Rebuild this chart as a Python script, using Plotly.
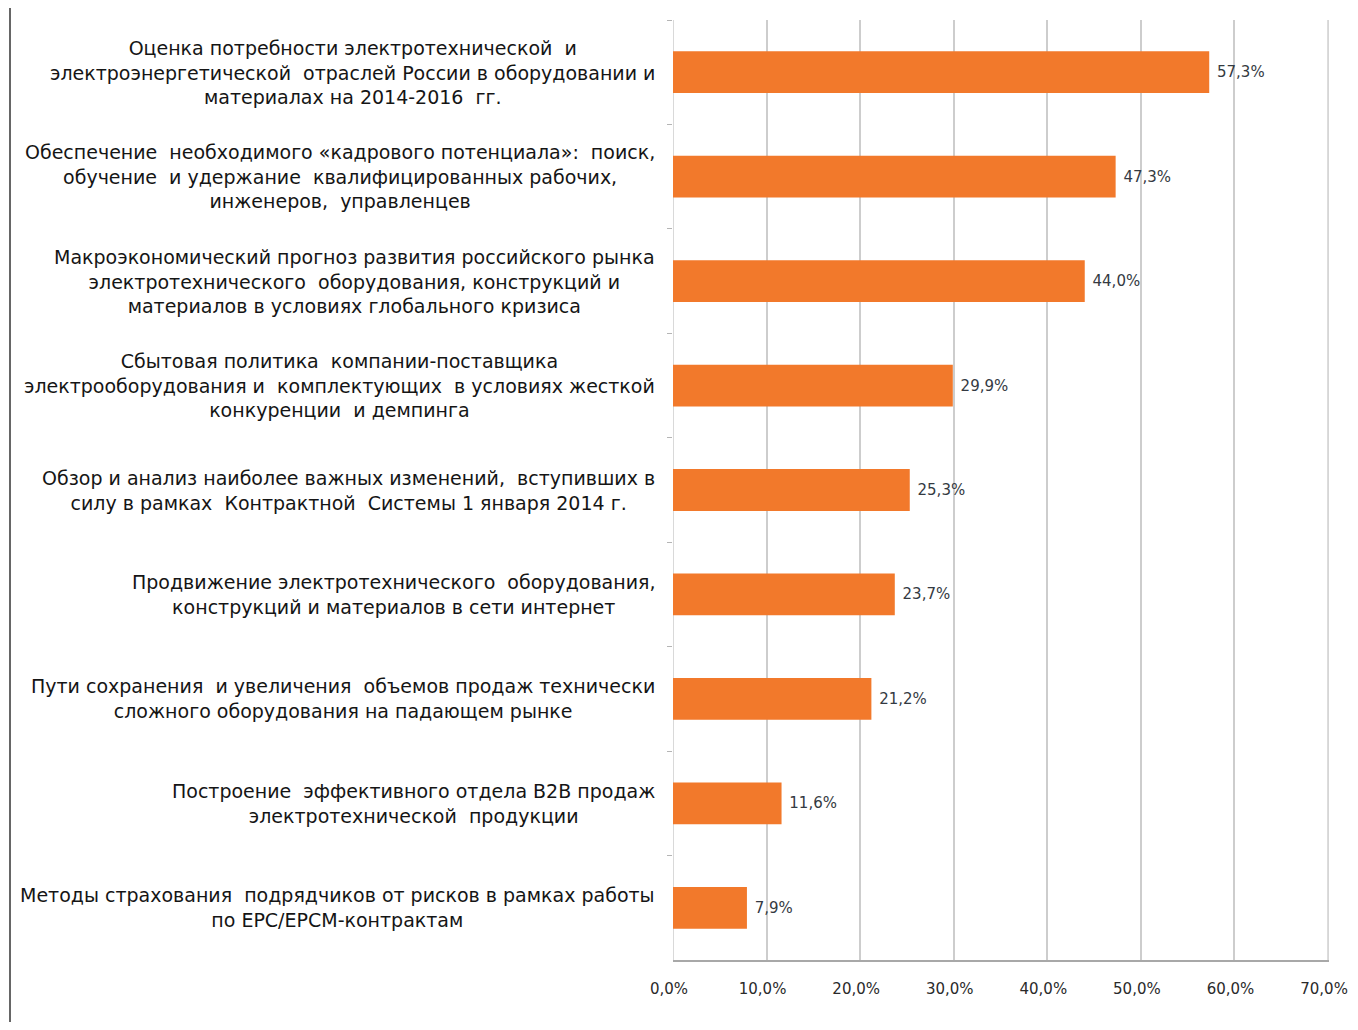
import plotly.graph_objects as go

categories = [
    "Оценка потребности электротехнической  и<br>электроэнергетической  отраслей России в оборудовании и<br>материалах на 2014-2016  гг.",
    "Обеспечение  необходимого «кадрового потенциала»:  поиск,<br>обучение  и удержание  квалифицированных рабочих,<br>инженеров,  управленцев",
    "Макроэкономический прогноз развития российского рынка<br>электротехнического  оборудования, конструкций и<br>материалов в условиях глобального кризиса",
    "Сбытовая политика  компании-поставщика<br>электрооборудования и  комплектующих  в условиях жесткой<br>конкуренции  и демпинга",
    "Обзор и анализ наиболее важных изменений,  вступивших в<br>силу в рамках  Контрактной  Системы 1 января 2014 г.",
    "Продвижение электротехнического  оборудования,<br>конструкций и материалов в сети интернет",
    "Пути сохранения  и увеличения  объемов продаж технически<br>сложного оборудования на падающем рынке",
    "Построение  эффективного отдела B2B продаж<br>электротехнической  продукции",
    "Методы страхования  подрядчиков от рисков в рамках работы<br>по EPC/EPCM-контрактам",
]
values = [57.3, 47.3, 44.0, 29.9, 25.3, 23.7, 21.2, 11.6, 7.9]
x_ticks = [0, 10, 20, 30, 40, 50, 60, 70]
x_tick_labels = ["0,0%", "10,0%", "20,0%", "30,0%", "40,0%", "50,0%", "60,0%", "70,0%"]

# page has an 8px body margin; figure sized so page fits the 1358x1030 window exactly
W, H = 1342, 1014
ML, MT = 665, 12
PW, PH = 656, 940
MR = W - ML - PW
MB = H - MT - PH

FONT = "DejaVu Sans, Verdana, sans-serif"
GRID = "#cdcdcd"

fig = go.Figure()
fig.add_trace(go.Bar(
    x=values, y=categories, orientation="h",
    marker=dict(color="#F2792B", line=dict(width=0)),
    width=0.4,
    text=values, texttemplate=" %{x:.1f}%", textposition="outside",
    textfont=dict(family=FONT, size=15, color="#343a42"),
    cliponaxis=False,
))

for cat in categories:
    fig.add_annotation(
        x=0, xref="paper", xanchor="right", xshift=-16,
        y=cat, yref="y", yanchor="middle",
        text=cat, showarrow=False, align="center",
        font=dict(family=FONT, size=19, color="#151515"),
    )

# edge gridlines (plotly drops gridlines that sit on the plot edges)
for xv in (x_ticks[0], x_ticks[-1]):
    fig.add_shape(type="line", xref="x", yref="paper", x0=xv, x1=xv, y0=0, y1=1,
                  line=dict(color=GRID, width=1.5), layer="below")

fig.add_shape(type="line", xref="paper", yref="paper",
              x0=(2 - ML) / PW, x1=(2 - ML) / PW,
              y0=-(MB + 10) / PH, y1=1 + (MT + 10) / PH,
              line=dict(color="#333333", width=1.5))

fig.update_layout(
    width=W, height=H,
    margin=dict(l=ML, r=MR, t=MT, b=MB),
    paper_bgcolor="white", plot_bgcolor="white",
    separators=", ",
    showlegend=False,
    xaxis=dict(
        range=[0, x_ticks[-1] + 0.1], tickvals=x_ticks, ticktext=x_tick_labels,
        showgrid=True, gridcolor=GRID, gridwidth=1.5,
        zeroline=False, showline=True, linecolor="#a8a8a8", linewidth=1.5,
        tickfont=dict(family=FONT, size=15, color="#2a2a2a"),
        ticks="", ticklabelstandoff=14, ticklabelshift=-4,
        automargin=False,
    ),
    yaxis=dict(
        categoryorder="array", categoryarray=categories, autorange="reversed",
        showticklabels=False, ticks="outside", ticklen=5, tickcolor="#b5b5b5",
        tickson="boundaries", showgrid=False, showline=False,
    ),
)

fig.write_html("out.html")
